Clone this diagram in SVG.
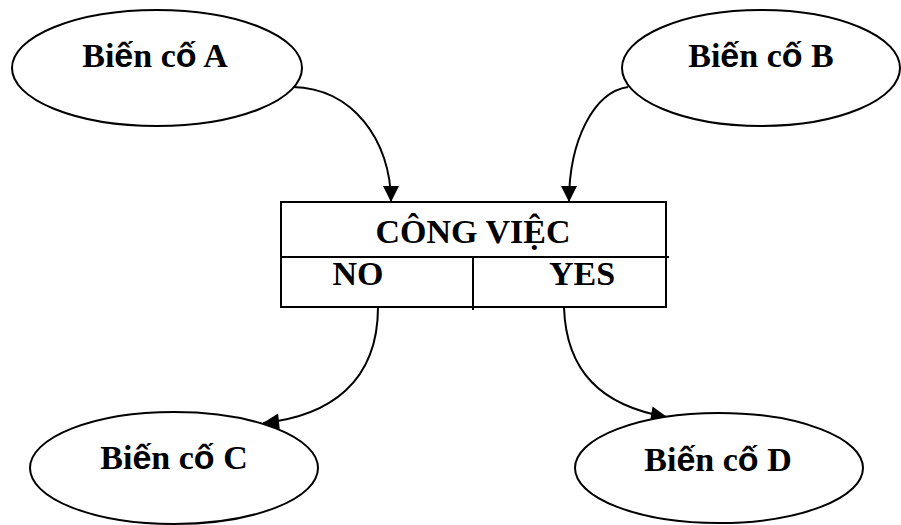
<svg xmlns="http://www.w3.org/2000/svg" width="901" height="525" viewBox="0 0 901 525">
  <style>
    .shape { fill: #ffffff; stroke: #000000; stroke-width: 2; }
    .rule { stroke: #000000; stroke-width: 2; fill: none; }
    .label { font-family: "Liberation Serif", "Times New Roman", serif; font-weight: bold; font-size: 34px; fill: #000000; text-anchor: middle; }
    .acc { font-family: "Liberation Sans", Arial, sans-serif; }
    .edge { fill: none; stroke: #000000; stroke-width: 2; marker-end: url(#arrow); }
  </style>
  <defs>
    <marker id="arrow" markerUnits="userSpaceOnUse" markerWidth="20" markerHeight="20" refX="16" refY="8" orient="auto" overflow="visible">
      <path d="M0,0 L16,8 L0,16 Z" fill="#000000"/>
    </marker>
  </defs>

  <g id="connectors">
    <path class="edge" d="M293,87 C352,88 391,140 391,202"/>
    <path class="edge" d="M628,87 C594,92 569,140 569,202"/>
    <path class="edge" d="M378,307 C378,382 330,416 263,423"/>
    <path class="edge" d="M564,307 C566,372 602,406 667,417"/>
  </g>

  <g id="event-a">
    <ellipse class="shape" cx="157" cy="68" rx="145" ry="58"/>
    <text class="label" x="155" y="67">Bi<tspan class="acc">ế</tspan>n c<tspan class="acc">ố</tspan> A</text>
  </g>

  <g id="event-b">
    <ellipse class="shape" cx="761" cy="68" rx="139" ry="58"/>
    <text class="label" x="761" y="67">Bi<tspan class="acc">ế</tspan>n c<tspan class="acc">ố</tspan> B</text>
  </g>

  <g id="task">
    <rect class="shape" x="281" y="202" width="385" height="105"/>
    <line class="rule" x1="281" y1="257" x2="669" y2="257"/>
    <line class="rule" x1="473" y1="257" x2="473" y2="310"/>
    <text class="label" x="473" y="243">CÔNG VIỆC</text>
    <text class="label" x="358" y="285">NO</text>
    <text class="label" x="582" y="285">YES</text>
  </g>

  <g id="event-c">
    <ellipse class="shape" cx="174" cy="468" rx="144" ry="56"/>
    <text class="label" x="174" y="469">Bi<tspan class="acc">ế</tspan>n c<tspan class="acc">ố</tspan> C</text>
  </g>

  <g id="event-d">
    <ellipse class="shape" cx="719" cy="468" rx="144" ry="55"/>
    <text class="label" x="718" y="471">Bi<tspan class="acc">ế</tspan>n c<tspan class="acc">ố</tspan> D</text>
  </g>
</svg>
